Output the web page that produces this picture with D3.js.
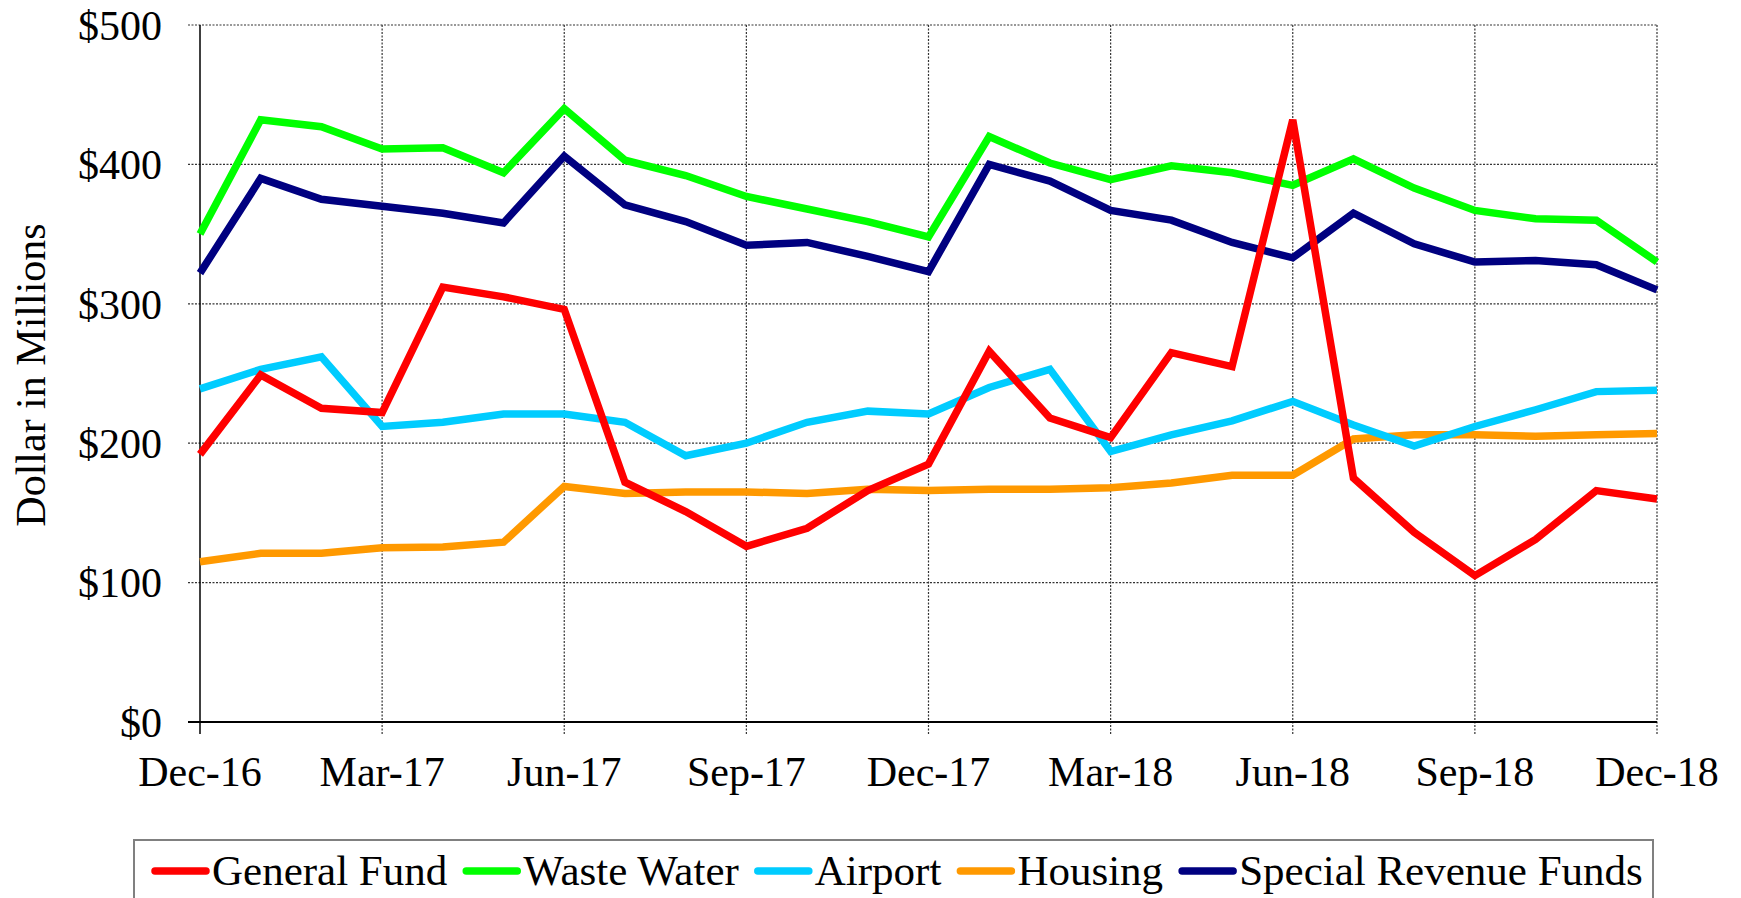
<!DOCTYPE html>
<html>
<head>
<meta charset="utf-8">
<script src="https://cdn.jsdelivr.net/npm/d3@7"></script>
<style>
    body { margin: 0; background: #fff; }
    svg { display: block; font-family: "Times New Roman", "Liberation Serif", serif; }
    .grid line { stroke: #333; stroke-width: 1.2; stroke-dasharray: 2,1.5; }
</style>
</head>
<body>
<svg id="chart" width="1741" height="898"></svg>
<script>
// month labels, Dec-16 .. Dec-18
const months = ["Dec-16", "Jan-17", "Feb-17", "Mar-17", "Apr-17", "May-17", "Jun-17", "Jul-17", "Aug-17",
    "Sep-17", "Oct-17", "Nov-17", "Dec-17", "Jan-18", "Feb-18", "Mar-18", "Apr-18", "May-18", "Jun-18",
    "Jul-18", "Aug-18", "Sep-18", "Oct-18", "Nov-18", "Dec-18"];
const tickMonths = ["Dec-16", "Mar-17", "Jun-17", "Sep-17", "Dec-17", "Mar-18", "Jun-18", "Sep-18", "Dec-18"];
const yTicks = [0, 100, 200, 300, 400, 500];

// values in $ millions
const generalFund = [192, 249, 225, 222, 312, 305, 296, 172, 151, 126, 139, 166, 185, 266, 218, 204, 265, 255, 432, 175, 136, 105, 131, 166, 160];
const wasteWater = [350, 432, 427, 411, 412, 394, 440, 403, 392, 377, 368, 359, 348, 420, 401, 389, 399, 394, 385, 404, 383, 367, 361, 360, 330];
const airport = [239, 253, 262, 212, 215, 221, 221, 215, 191, 200, 215, 223, 221, 240, 253, 194, 206, 216, 230, 213, 198, 212, 224, 237, 238];
const housing = [115, 121, 121, 125, 125.5, 129, 169, 164, 165, 165, 164, 167, 166, 167, 167, 168, 171.5, 177, 177, 203, 206, 206, 205, 206, 207];
const specialRevenue = [322, 390, 375, 370, 365, 358, 406, 371, 359, 342, 344, 334, 323, 400, 388, 367, 360, 344, 333, 365, 343, 330, 331, 328, 310];

const seriesNames = ["General Fund", "Waste Water", "Airport", "Housing", "Special Revenue Funds"];
const seriesColors = ["#ff0000", "#00ff00", "#00ccff", "#ff9900", "#000080"];
const seriesValues = [generalFund, wasteWater, airport, housing, specialRevenue];

const plot = {left: 200, right: 1657, top: 25, bottom: 722};

const svg = d3.select("#chart");

const x = d3.scalePoint().domain(months).range([plot.left, plot.right]);
const y = d3.scaleLinear().domain([0, 500]).range([plot.bottom, plot.top]);

// gridlines (they also run past the axes as tick marks)
const grid = svg.append("g").attr("class", "grid");
grid.selectAll(".hgrid")
    .data(yTicks.filter(d => d > 0))
    .join("line")
    .attr("x1", plot.left - 12)
    .attr("x2", plot.right)
    .attr("y1", d => y(d))
    .attr("y2", d => y(d));
grid.selectAll(".vgrid")
    .data(tickMonths.slice(1))
    .join("line")
    .attr("x1", d => x(d))
    .attr("x2", d => x(d))
    .attr("y1", plot.top)
    .attr("y2", plot.bottom + 12);

// axes lines
svg.append("line")
    .attr("x1", plot.left).attr("x2", plot.left)
    .attr("y1", plot.top).attr("y2", plot.bottom + 12)
    .attr("stroke", "#000").attr("stroke-width", 1.5);
svg.append("line")
    .attr("x1", plot.left - 12).attr("x2", plot.right)
    .attr("y1", plot.bottom).attr("y2", plot.bottom)
    .attr("stroke", "#000").attr("stroke-width", 2);

// tick labels
svg.append("g")
    .selectAll("text")
    .data(yTicks)
    .join("text")
    .attr("x", 162)
    .attr("y", d => y(d))
    .attr("dy", "0.35em")
    .attr("text-anchor", "end")
    .style("font-size", "42px")
    .text(d => "$" + d);

svg.append("g")
    .selectAll("text")
    .data(tickMonths)
    .join("text")
    .attr("x", d => x(d))
    .attr("y", 786)
    .attr("text-anchor", "middle")
    .style("font-size", "42px")
    .text(d => d);

svg.append("text")
    .attr("transform", "translate(45,375) rotate(-90)")
    .attr("text-anchor", "middle")
    .style("font-size", "42px")
    .text("Dollar in Millions");

// lines, General Fund drawn last so it sits on top
const line = d3.line()
    .x((d, i) => x(months[i]))
    .y(d => y(d));

const order = [4, 3, 2, 1, 0];
svg.append("g")
    .selectAll("path")
    .data(order)
    .join("path")
    .attr("d", k => line(seriesValues[k]))
    .attr("fill", "none")
    .attr("stroke", k => seriesColors[k])
    .attr("stroke-width", 7.5)
    .attr("stroke-linejoin", "miter")
    .attr("stroke-miterlimit", 4);

// legend
svg.append("rect")
    .attr("x", 134)
    .attr("y", 840)
    .attr("width", 1519)
    .attr("height", 90)
    .attr("fill", "#fff")
    .attr("stroke", "#808080")
    .attr("stroke-width", 2);

const legend = svg.append("g");
let lx = 152;
seriesNames.forEach((name, i) => {
    legend.append("line")
        .attr("x1", lx + 3).attr("x2", lx + 54)
        .attr("y1", 871).attr("y2", 871)
        .attr("stroke", seriesColors[i])
        .attr("stroke-width", 7.5)
        .attr("stroke-linecap", "round");
    const t = legend.append("text")
        .attr("x", lx + 60)
        .attr("y", 885)
        .style("font-size", "43px")
        .text(name);
    lx += 60 + t.node().getComputedTextLength() + 16;
});
</script>
</body>
</html>
